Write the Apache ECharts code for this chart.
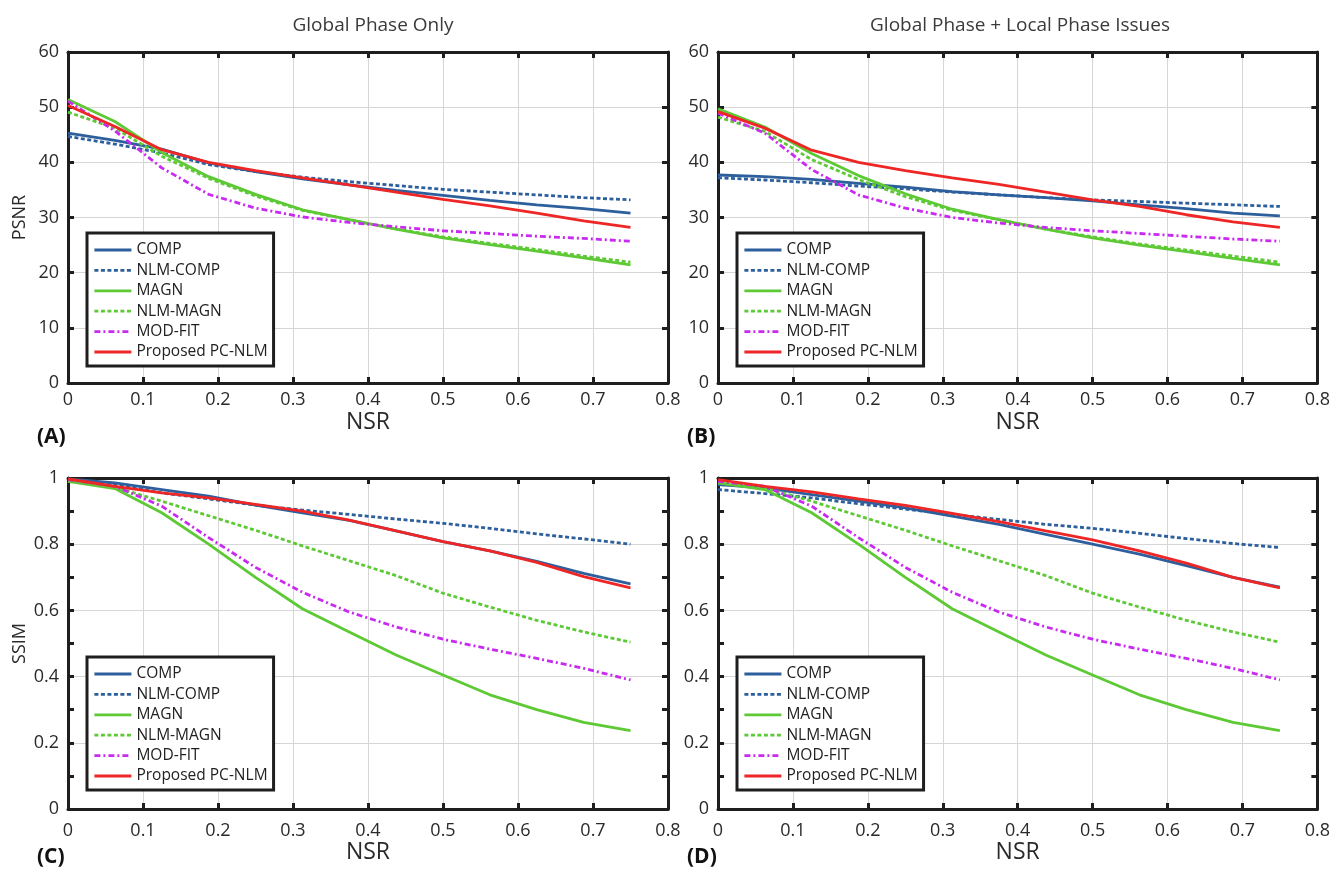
<!DOCTYPE html>
<html>
<head>
<meta charset="utf-8">
<script src="https://cdn.jsdelivr.net/npm/echarts@6/dist/echarts.min.js"></script>
<style>
html,body{margin:0;padding:0;background:#fff;}
#chart{width:1333px;height:875px;}
</style>
</head>
<body>
<div id="chart"></div>
<script>
// ---- data ----
const nsr = [0, 0.0625, 0.125, 0.1875, 0.25, 0.3125, 0.375, 0.4375, 0.5, 0.5625, 0.625, 0.6875, 0.75];
const seriesNames = ['COMP', 'NLM-COMP', 'MAGN', 'NLM-MAGN', 'MOD-FIT', 'Proposed PC-NLM'];
const panelTitles = ['Global Phase Only', 'Global Phase + Local Phase Issues'];
const panelLabels = ['(A)', '(B)', '(C)', '(D)'];

// (A) PSNR, global phase only
const A_COMP     = [45.3, 44.0, 42.4, 39.9, 38.3, 37.0, 35.9, 34.9, 34.0, 33.1, 32.3, 31.6, 30.8];
const A_NLMCOMP  = [44.7, 43.3, 41.7, 39.6, 38.3, 37.3, 36.5, 35.8, 35.1, 34.6, 34.1, 33.6, 33.2];
const A_MAGN     = [51.4, 47.4, 41.8, 37.4, 34.2, 31.4, 29.6, 27.9, 26.3, 25.1, 23.9, 22.7, 21.4];
const A_NLMMAGN  = [49.1, 46.2, 41.1, 37.1, 33.9, 31.3, 29.6, 27.9, 26.5, 25.3, 24.2, 23.0, 21.9];
const A_MODFIT   = [51.1, 45.7, 39.0, 34.2, 31.7, 30.1, 29.1, 28.3, 27.6, 27.1, 26.6, 26.2, 25.7];
const A_PCNLM    = [50.3, 46.5, 42.3, 40.0, 38.5, 37.2, 35.9, 34.6, 33.3, 32.1, 30.8, 29.4, 28.2];

// (B) PSNR, global + local phase issues
const B_COMP     = [37.7, 37.4, 36.9, 36.2, 35.5, 34.7, 34.1, 33.6, 33.0, 32.3, 31.6, 30.8, 30.3];
const B_NLMCOMP  = [37.2, 36.8, 36.3, 35.7, 35.2, 34.6, 34.1, 33.6, 33.2, 32.9, 32.6, 32.3, 32.0];
const B_MAGN     = [49.7, 46.4, 41.6, 37.6, 34.3, 31.5, 29.6, 27.9, 26.3, 25.0, 23.8, 22.6, 21.4];
const B_NLMMAGN  = [48.2, 45.6, 40.5, 36.9, 33.8, 31.3, 29.6, 27.9, 26.5, 25.2, 24.1, 23.0, 21.9];
const B_MODFIT   = [48.9, 45.3, 38.7, 34.1, 31.7, 30.0, 29.0, 28.2, 27.6, 27.1, 26.6, 26.1, 25.7];
const B_PCNLM    = [49.2, 46.2, 42.2, 40.0, 38.5, 37.2, 36.0, 34.6, 33.2, 32.0, 30.5, 29.2, 28.2];

// (C) SSIM, global phase only
const C_COMP     = [0.997, 0.985, 0.965, 0.945, 0.918, 0.895, 0.872, 0.840, 0.808, 0.780, 0.748, 0.712, 0.680];
const C_NLMCOMP  = [0.995, 0.980, 0.955, 0.937, 0.918, 0.903, 0.890, 0.876, 0.863, 0.848, 0.831, 0.816, 0.800];
const C_MAGN     = [0.990, 0.968, 0.895, 0.800, 0.700, 0.605, 0.535, 0.465, 0.405, 0.345, 0.300, 0.262, 0.237];
const C_NLMMAGN  = [0.990, 0.972, 0.930, 0.886, 0.842, 0.795, 0.750, 0.705, 0.652, 0.610, 0.570, 0.535, 0.504];
const C_MODFIT   = [0.995, 0.975, 0.915, 0.820, 0.730, 0.655, 0.595, 0.550, 0.513, 0.483, 0.455, 0.425, 0.390];
const C_PCNLM    = [0.997, 0.975, 0.955, 0.940, 0.920, 0.900, 0.873, 0.840, 0.808, 0.780, 0.745, 0.702, 0.668];

// (D) SSIM, global + local phase issues
const D_COMP     = [0.980, 0.970, 0.950, 0.930, 0.910, 0.885, 0.860, 0.830, 0.800, 0.770, 0.735, 0.700, 0.670];
const D_NLMCOMP  = [0.965, 0.953, 0.940, 0.922, 0.906, 0.890, 0.875, 0.860, 0.848, 0.833, 0.817, 0.802, 0.790];
const D_MAGN     = [0.985, 0.965, 0.895, 0.800, 0.700, 0.605, 0.535, 0.465, 0.405, 0.345, 0.300, 0.262, 0.237];
const D_NLMMAGN  = [0.985, 0.970, 0.930, 0.886, 0.842, 0.795, 0.750, 0.705, 0.652, 0.610, 0.570, 0.535, 0.504];
const D_MODFIT   = [0.990, 0.975, 0.915, 0.820, 0.730, 0.655, 0.595, 0.550, 0.513, 0.483, 0.455, 0.425, 0.390];
const D_PCNLM    = [0.995, 0.975, 0.958, 0.937, 0.917, 0.893, 0.868, 0.840, 0.813, 0.780, 0.743, 0.700, 0.668];

const panelData = [
  [A_COMP, A_NLMCOMP, A_MAGN, A_NLMMAGN, A_MODFIT, A_PCNLM],
  [B_COMP, B_NLMCOMP, B_MAGN, B_NLMMAGN, B_MODFIT, B_PCNLM],
  [C_COMP, C_NLMCOMP, C_MAGN, C_NLMMAGN, C_MODFIT, C_PCNLM],
  [D_COMP, D_NLMCOMP, D_MAGN, D_NLMMAGN, D_MODFIT, D_PCNLM]
];

// ---- styling ----
const FONT = '"Open Sans", "Noto Sans", sans-serif';
const AX = '#1e1e1e';
const lineStyles = [
  {color: '#2d5f9c', width: 2.8, type: 'solid'},
  {color: '#2d5f9c', width: 2.8, type: [4, 2.5]},
  {color: '#5dc935', width: 2.8, type: 'solid'},
  {color: '#5dc935', width: 2.8, type: [4, 2.5]},
  {color: '#c82af0', width: 2.8, type: [6, 3, 2, 3]},
  {color: '#ee2626', width: 2.8, type: 'solid'}
];

const grids = [
  {left: 68, top: 52, width: 600, height: 331},
  {left: 718, top: 52, width: 602, height: 331},
  {left: 68, top: 478, width: 600, height: 331},
  {left: 718, top: 478, width: 602, height: 331}
];

const xAxes = [], yAxes = [], series = [], legends = [], titles = [];

grids.forEach((g, gi) => {
  const isPSNR = gi < 2;
  const tickStyle = {show: true, inside: true, length: 6, lineStyle: {color: AX, width: 3}};
  xAxes.push({
    type: 'value', gridIndex: gi, position: 'bottom', min: 0, max: 0.8, interval: 0.1,
    axisLine: {show: true, onZero: false, lineStyle: {color: AX, width: 3}},
    axisTick: tickStyle,
    axisLabel: {color: '#2a2a2a', fontFamily: FONT, fontSize: 18, margin: isPSNR ? 8 : 13},
    splitLine: {show: true, lineStyle: {color: '#d6d6d6', width: 1}},
    name: 'NSR', nameLocation: 'middle', nameGap: isPSNR ? 28 : 30,
    nameTextStyle: {color: '#2a2a2a', fontFamily: FONT, fontSize: 23}
  });
  xAxes.push({
    type: 'value', gridIndex: gi, position: 'top', min: 0, max: 0.8, interval: 0.1,
    axisLine: {show: true, onZero: false, lineStyle: {color: AX, width: 3}},
    axisTick: tickStyle, axisLabel: {show: false}, splitLine: {show: false}
  });
  const yBase = isPSNR
    ? {min: 0, max: 60, interval: 10}
    : {min: 0, max: 1, interval: 0.2};
  const minor = isPSNR ? {show: false}
    : {show: true, splitNumber: 2, length: 6, lineStyle: {color: AX, width: 3}};
  yAxes.push(Object.assign({
    type: 'value', gridIndex: gi, position: 'left',
    axisLine: {show: true, onZero: false, lineStyle: {color: AX, width: 3}},
    axisTick: tickStyle, minorTick: minor,
    axisLabel: {color: '#2a2a2a', fontFamily: FONT, fontSize: 18, margin: 9},
    splitLine: {show: true, lineStyle: {color: '#d6d6d6', width: 1}},
    name: (gi === 0) ? 'PSNR' : (gi === 2 ? 'SSIM' : ''),
    nameLocation: 'middle', nameGap: 39, nameRotate: 90,
    nameTextStyle: {color: '#2a2a2a', fontFamily: FONT, fontSize: 18}
  }, yBase));
  yAxes.push(Object.assign({
    type: 'value', gridIndex: gi, position: 'right',
    axisLine: {show: true, onZero: false, lineStyle: {color: AX, width: 3}},
    axisTick: tickStyle, minorTick: minor,
    axisLabel: {show: false}, splitLine: {show: false}
  }, yBase));

  panelData[gi].forEach((vals, si) => {
    series.push({
      type: 'line', name: seriesNames[si],
      xAxisIndex: gi * 2, yAxisIndex: gi * 2,
      data: nsr.map((x, k) => [x, vals[k]]),
      symbol: 'none', showSymbol: false, smooth: false, z: 3 + si,
      lineStyle: lineStyles[si], itemStyle: {color: lineStyles[si].color},
      emphasis: {disabled: true}, animation: false
    });
  });

  legends.push({
    orient: 'vertical', left: g.left + 19, top: isPSNR ? 233 : 657,
    data: seriesNames, selectedMode: false,
    backgroundColor: '#fff', borderColor: AX, borderWidth: 3,
    padding: [9, 6, 6, 6], itemGap: 4.4, itemWidth: 37, itemHeight: 14,
    textStyle: {color: '#222', fontFamily: FONT, fontSize: 15.5, width: 128, lineHeight: 14},
    itemStyle: {opacity: 0, borderWidth: 0},
    lineStyle: {width: 2.8}
  });

  titles.push({
    text: panelLabels[gi], left: g.left - 36, top: isPSNR ? 422 : 842,
    textStyle: {color: '#111', fontFamily: FONT, fontSize: 21, fontWeight: 'bold'}
  });
});

titles.push({text: panelTitles[0], left: 368, top: 11, textAlign: 'center',
  textStyle: {color: '#3a3a3a', fontFamily: FONT, fontSize: 19, fontWeight: 'normal'}});
titles.push({text: panelTitles[1], left: 1015, top: 11, textAlign: 'center',
  textStyle: {color: '#3a3a3a', fontFamily: FONT, fontSize: 19, fontWeight: 'normal'}});

const chart = echarts.init(document.getElementById('chart'), null, {renderer: 'canvas'});
chart.setOption({
  animation: false,
  backgroundColor: '#fff',
  title: titles,
  grid: grids,
  xAxis: xAxes,
  yAxis: yAxes,
  legend: legends,
  series: series
});
</script>
</body>
</html>
